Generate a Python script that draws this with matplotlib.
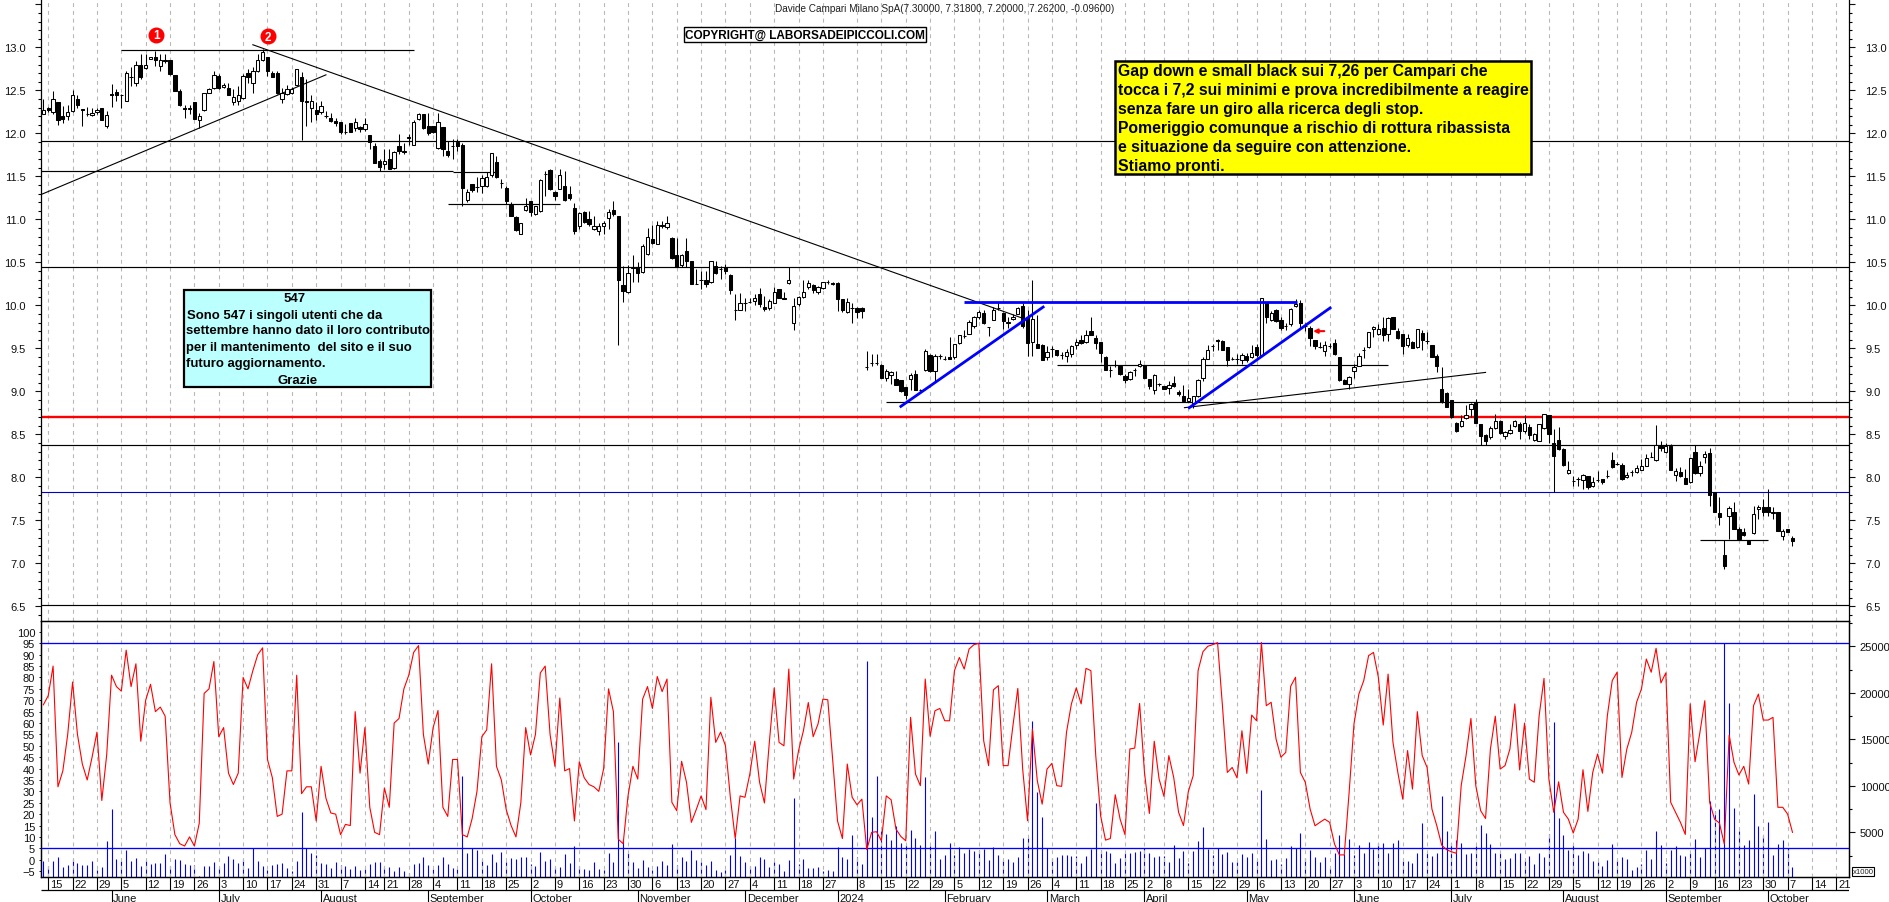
import numpy as np
import matplotlib
matplotlib.use("Agg")
import matplotlib.pyplot as plt
from matplotlib.patches import Rectangle
from matplotlib.ticker import MultipleLocator, FuncFormatter

plt.rcParams['font.family'] = ['Liberation Sans', 'DejaVu Sans']

W, H = 1890, 903
LEFT, RIGHT = 41.4, 1849.5
SPLIT, BOTTOM = 622.3, 878.3

# daily candles, ten per row
opens = [
    12.23,12.29,12.25,12.36,12.20,12.20,12.26,12.40,12.28,12.23,
    12.21,12.25,12.29,12.08,12.46,12.48,12.45,12.38,12.65,12.58,
    12.80,12.76,12.87,12.89,12.78,12.85,12.85,12.68,12.49,12.29,
    12.28,12.36,12.15,12.27,12.47,12.53,12.67,12.54,12.53,12.36,
    12.38,12.41,12.70,12.58,12.72,12.85,12.89,12.70,12.70,12.40,
    12.46,12.47,12.56,12.66,12.38,12.30,12.27,12.25,12.20,12.18,
    12.14,12.13,12.02,12.12,12.06,12.07,12.05,11.98,11.85,11.68,
    11.64,11.70,11.60,11.85,11.78,11.94,11.87,12.17,12.23,12.09,
    12.08,11.83,12.07,11.79,11.85,11.90,11.87,11.23,11.41,11.38,
    11.39,11.39,11.51,11.67,11.42,11.37,11.17,11.03,10.83,11.11,
    11.21,11.06,11.10,11.53,11.57,11.32,11.35,11.39,11.29,11.13,
    10.92,11.08,11.00,10.89,10.87,10.92,11.01,11.11,11.04,10.24,
    10.15,10.43,10.44,10.39,10.60,10.77,10.71,10.93,10.91,10.78,
    10.59,10.47,10.63,10.52,10.25,10.30,10.29,10.27,10.46,10.42,
    10.44,10.35,9.95,9.95,10.03,10.04,10.05,10.13,9.98,9.97,
    10.03,10.19,10.09,10.26,9.79,10.01,10.10,10.21,10.24,10.15,
    10.20,10.27,10.26,10.26,10.07,9.92,9.97,9.97,9.97,9.28,
    9.33,9.33,9.31,9.16,9.19,9.14,9.13,9.05,9.14,9.20,
    9.01,9.25,9.42,9.24,9.41,9.38,9.40,9.40,9.56,9.64,
    9.67,9.76,9.86,9.91,9.75,9.83,9.97,9.91,9.79,9.84,
    9.90,9.99,9.87,9.57,9.55,9.54,9.40,9.49,9.48,9.42,
    9.41,9.43,9.54,9.60,9.57,9.70,9.62,9.57,9.40,9.25,
    9.31,9.29,9.18,9.14,9.25,9.29,9.31,9.14,9.02,9.08,
    9.06,9.04,9.10,8.99,8.94,8.89,8.87,8.94,9.16,9.38,
    9.53,9.60,9.59,9.52,9.38,9.38,9.37,9.41,9.40,9.51,
    9.42,10.03,9.83,9.95,9.83,9.76,9.78,9.99,10.03,9.76,
    9.74,9.60,9.52,9.47,9.53,9.56,9.40,9.13,9.08,9.24,
    9.30,9.48,9.51,9.73,9.67,9.74,9.67,9.86,9.70,9.67,
    9.54,9.57,9.51,9.68,9.58,9.54,9.41,9.03,8.98,8.90,
    8.63,8.60,8.69,8.80,8.88,8.62,8.49,8.47,8.57,8.65,
    8.48,8.52,8.60,8.62,8.54,8.59,8.43,8.42,8.57,8.72,
    8.40,8.43,8.33,8.05,7.96,7.98,7.97,8.01,7.90,7.97,
    7.98,8.01,8.20,8.15,8.14,8.00,8.06,8.06,8.09,8.13,
    8.24,8.20,8.37,8.29,8.37,8.03,8.06,7.99,7.94,8.29,
    8.05,8.24,8.28,7.83,7.58,7.10,7.55,7.60,7.40,7.36,
    7.26,7.35,7.63,7.66,7.65,7.58,7.60,7.32,7.40,7.30]
closes = [
    12.27,12.27,12.40,12.15,12.17,12.25,12.44,12.33,12.27,12.22,
    12.24,12.27,12.16,12.21,12.45,12.45,12.44,12.70,12.66,12.80,
    12.65,12.80,12.89,12.85,12.85,12.84,12.69,12.49,12.33,12.28,
    12.30,12.17,12.20,12.47,12.51,12.68,12.53,12.56,12.45,12.42,
    12.44,12.67,12.65,12.73,12.85,12.94,12.72,12.66,12.47,12.47,
    12.52,12.52,12.75,12.38,12.37,12.38,12.23,12.32,12.20,12.14,
    12.12,12.02,12.01,12.02,12.13,12.05,12.11,11.90,11.66,11.61,
    11.68,11.59,11.78,11.79,11.79,11.96,12.13,12.23,12.06,12.00,
    12.01,12.13,11.82,11.75,11.85,11.85,11.36,11.32,11.34,11.38,
    11.48,11.49,11.77,11.49,11.42,11.21,11.04,10.88,10.96,11.16,
    11.09,11.15,11.46,11.53,11.35,11.27,11.52,11.23,11.25,10.87,
    11.07,10.97,10.94,10.92,10.92,10.96,11.09,11.06,10.30,10.17,
    10.38,10.44,10.38,10.69,10.79,10.72,10.93,10.92,10.96,10.55,
    10.44,10.59,10.52,10.25,10.25,10.30,10.25,10.51,10.38,10.42,
    10.40,10.18,9.95,10.03,10.03,10.04,10.09,10.02,9.96,10.05,
    10.16,10.09,10.07,10.30,9.99,10.10,10.15,10.26,10.18,10.21,
    10.27,10.27,10.25,10.07,9.95,10.04,9.97,9.92,9.93,9.28,
    9.33,9.33,9.16,9.24,9.23,9.07,9.00,8.96,9.19,9.02,
    9.01,9.47,9.24,9.41,9.41,9.38,9.38,9.55,9.65,9.64,
    9.81,9.87,9.92,9.79,9.75,9.94,9.97,9.82,9.81,9.87,
    9.97,9.76,9.56,9.84,9.50,9.37,9.46,9.49,9.42,9.42,
    9.46,9.53,9.57,9.56,9.65,9.65,9.56,9.45,9.25,9.25,
    9.31,9.20,9.13,9.23,9.25,9.32,9.16,9.06,9.19,9.08,
    9.03,9.07,9.06,8.97,8.89,8.92,8.94,9.13,9.38,9.48,
    9.53,9.59,9.48,9.37,9.38,9.38,9.42,9.36,9.44,9.42,
    10.08,9.87,9.91,9.82,9.74,9.76,9.96,10.02,9.79,9.76,
    9.62,9.53,9.52,9.54,9.53,9.43,9.13,9.09,9.17,9.28,
    9.41,9.48,9.69,9.75,9.72,9.66,9.85,9.72,9.62,9.53,
    9.62,9.50,9.72,9.60,9.58,9.40,9.29,8.88,8.82,8.70,
    8.54,8.65,8.73,8.85,8.63,8.48,8.42,8.57,8.66,8.51,
    8.53,8.55,8.65,8.54,8.63,8.49,8.50,8.62,8.74,8.50,
    8.25,8.33,8.14,8.09,7.96,7.98,8.03,7.89,7.95,7.97,
    7.95,8.01,8.12,8.15,7.98,8.03,8.06,8.11,8.13,8.23,
    8.24,8.38,8.34,8.36,8.08,8.07,8.01,7.92,8.22,8.05,
    8.13,8.27,7.80,7.60,7.54,6.97,7.64,7.40,7.28,7.33,
    7.23,7.57,7.66,7.60,7.60,7.60,7.38,7.38,7.36,7.262]
highs = [
    12.40,12.31,12.49,12.36,12.32,12.33,12.50,12.44,12.28,12.31,
    12.29,12.30,12.30,12.26,12.57,12.52,12.46,12.73,12.77,12.84,
    12.92,12.92,12.89,12.96,12.92,12.92,12.85,12.68,12.51,12.33,
    12.33,12.36,12.24,12.47,12.53,12.73,12.69,12.58,12.58,12.52,
    12.55,12.69,12.75,12.77,12.92,12.98,12.89,12.73,12.73,12.53,
    12.56,12.54,12.75,12.71,12.63,12.44,12.36,12.38,12.26,12.24,
    12.18,12.13,12.11,12.12,12.18,12.09,12.18,11.98,11.89,11.70,
    11.82,11.82,11.80,11.99,11.89,11.99,12.15,12.24,12.23,12.24,
    12.09,12.24,12.07,11.91,11.93,11.93,11.89,11.35,11.41,11.49,
    11.51,11.55,11.77,11.74,11.47,11.39,11.20,11.04,10.96,11.25,
    11.21,11.16,11.47,11.56,11.58,11.33,11.58,11.56,11.39,11.19,
    11.08,11.10,11.10,11.04,10.96,10.98,11.12,11.21,11.04,10.46,
    10.47,10.58,10.50,10.71,10.90,10.93,10.98,10.98,11.04,10.79,
    10.78,10.60,10.78,10.52,10.42,10.40,10.40,10.52,10.52,10.46,
    10.48,10.36,10.13,10.14,10.09,10.08,10.13,10.20,10.11,10.07,
    10.21,10.19,10.15,10.44,10.09,10.11,10.29,10.29,10.25,10.23,
    10.27,10.29,10.27,10.27,10.07,10.08,10.03,9.98,9.98,9.47,
    9.43,9.43,9.32,9.26,9.24,9.24,9.13,9.05,9.21,9.25,
    9.03,9.49,9.43,9.43,9.43,9.41,9.63,9.55,9.65,9.71,
    9.83,9.88,9.95,9.94,9.75,9.98,10.04,9.92,9.87,9.90,
    9.98,10.03,9.94,10.29,9.89,9.55,9.53,9.53,9.48,9.46,
    9.49,9.54,9.61,9.65,9.71,9.87,9.65,9.57,9.41,9.30,
    9.36,9.31,9.20,9.24,9.27,9.36,9.31,9.14,9.20,9.10,
    9.06,9.12,9.18,9.01,9.07,9.03,8.94,9.14,9.40,9.54,
    9.55,9.61,9.60,9.52,9.40,9.43,9.45,9.45,9.54,9.55,
    10.08,10.03,9.93,9.96,9.86,9.80,9.97,10.07,10.06,9.80,
    9.76,9.60,9.57,9.59,9.56,9.61,9.40,9.14,9.18,9.32,
    9.45,9.51,9.69,9.76,9.78,9.86,9.86,9.86,9.74,9.67,
    9.67,9.59,9.72,9.71,9.69,9.54,9.43,9.28,8.99,8.90,
    8.64,8.72,8.84,8.87,8.91,8.62,8.50,8.60,8.74,8.67,
    8.54,8.62,8.67,8.64,8.72,8.62,8.52,8.62,8.74,8.72,
    8.56,8.59,8.34,8.19,8.02,8.00,8.04,8.02,8.00,8.07,
    7.98,8.09,8.29,8.18,8.17,8.06,8.08,8.14,8.21,8.27,
    8.29,8.61,8.42,8.40,8.39,8.11,8.12,8.10,8.22,8.38,
    8.19,8.31,8.34,7.83,7.77,7.27,7.67,7.71,7.42,7.41,
    7.26,7.67,7.68,7.75,7.87,7.65,7.60,7.40,7.40,7.318]
lows = [
    12.22,12.25,12.23,12.10,12.12,12.15,12.25,12.30,12.08,12.20,
    12.20,12.22,12.15,12.06,12.31,12.38,12.30,12.38,12.55,12.55,
    12.63,12.75,12.87,12.78,12.73,12.82,12.68,12.49,12.32,12.18,
    12.22,12.17,12.06,12.26,12.47,12.52,12.52,12.53,12.44,12.33,
    12.33,12.40,12.59,12.47,12.71,12.84,12.67,12.65,12.46,12.35,
    12.44,12.46,12.55,11.92,12.09,12.13,12.16,12.22,12.18,12.13,
    12.09,11.99,11.99,12.01,12.03,12.02,12.03,11.82,11.66,11.56,
    11.59,11.58,11.59,11.76,11.76,11.87,11.87,12.16,12.05,11.98,
    12.00,11.82,11.74,11.73,11.70,11.80,11.15,11.20,11.32,11.32,
    11.31,11.38,11.49,11.48,11.37,11.18,11.04,10.87,10.83,11.10,
    11.04,11.05,11.09,11.27,11.34,11.22,11.35,11.21,11.23,10.83,
    10.89,10.96,10.92,10.88,10.82,10.83,10.89,11.04,9.54,10.04,
    10.14,10.27,10.27,10.38,10.58,10.71,10.71,10.90,10.89,10.54,
    10.44,10.44,10.44,10.25,10.25,10.19,10.21,10.26,10.36,10.31,
    10.36,10.13,9.83,9.94,9.93,10.03,10.00,9.98,9.93,9.95,
    10.03,10.09,10.07,10.25,9.71,9.99,10.09,10.19,10.14,10.13,
    10.19,10.25,10.24,9.93,9.92,9.91,9.79,9.85,9.85,9.25,
    9.29,9.31,9.15,9.12,9.09,9.07,8.99,8.91,9.01,9.01,
    9.00,9.24,9.23,9.12,9.38,9.37,9.38,9.38,9.55,9.62,
    9.67,9.74,9.84,9.78,9.64,9.83,9.94,9.73,9.74,9.83,
    9.90,9.74,9.41,9.41,9.50,9.36,9.36,9.40,9.41,9.38,
    9.34,9.40,9.49,9.55,9.56,9.65,9.49,9.34,9.25,9.17,
    9.28,9.19,9.10,9.13,9.18,9.28,9.15,9.03,8.97,9.06,
    9.03,8.97,9.05,8.95,8.88,8.88,8.81,8.93,9.12,9.38,
    9.47,9.48,9.48,9.29,9.37,9.32,9.32,9.34,9.39,9.40,
    9.41,9.80,9.82,9.81,9.71,9.71,9.76,9.98,9.74,9.70,
    9.53,9.49,9.50,9.41,9.50,9.42,9.12,9.08,9.03,9.15,
    9.29,9.39,9.50,9.63,9.65,9.59,9.58,9.72,9.61,9.43,
    9.52,9.50,9.50,9.48,9.55,9.40,9.23,8.87,8.82,8.69,
    8.53,8.59,8.68,8.70,8.63,8.38,8.38,8.45,8.56,8.50,
    8.45,8.50,8.58,8.45,8.52,8.45,8.42,8.42,8.56,8.40,
    7.83,8.32,8.13,8.04,7.90,7.90,7.86,7.87,7.89,7.94,
    7.92,7.99,8.11,8.14,7.97,7.99,8.02,8.05,8.09,8.13,
    8.24,8.19,8.31,8.28,8.08,7.96,8.00,7.92,7.93,8.04,
    8.02,8.17,7.67,7.60,7.44,6.93,7.28,7.40,7.28,7.32,
    7.22,7.34,7.52,7.55,7.55,7.52,7.38,7.27,7.36,7.20]

# oscillator on the left scale of the lower panel
osc = [
    68,72,85,32,39,55,78,55,42,35,
    45,56,26,46,81,76,74,92,76,86,
    52,70,77,65,67,63,25,11,7,6,
    10,6,16,73,75,87,54,58,38,33,
    38,80,75,83,90,93,44,36,19,20,
    39,39,81,29,32,32,17,41,27,20.5,
    20,11,15.5,15,65,38,58,23,12,11,
    31.5,23,60,62,75,81,91,94,55,42,
    58,65.5,23,19,44,44,11,10,18,30,
    54,57,86,41,35,22,15,10,25,58,
    46,55,82,85,55,41,71,39,40,17,
    43,36,33,32,30,40,75,65,9,7,
    28,41,35.4,70.5,76,66.4,80.4,73.8,79.3,25.2,
    21.5,43.2,34,16.4,22,28,22,71.3,51.5,56,
    50,27.4,9.3,28,27.4,37.6,52,34,24.9,51.5,
    75.4,51.5,50,83.7,35.4,47.9,56.6,69,54,59.6,
    70.5,70.2,44,17,9.3,42,27.4,24.1,26.6,4.4,
    12,12.3,8.3,28,26.3,13.4,10.2,8.3,62.5,37.6,
    32.5,79.3,54.2,65.4,66.4,61,61,83,88.8,83.7,
    92.5,94.4,95,52.2,41.3,74.6,76.4,41.3,41.3,58.8,
    75.2,39.8,17.1,57.4,34.7,24.4,39.8,42.3,32.5,32.2,
    56,68.4,75.4,68.4,84,83,45.7,19.3,8.6,9.3,
    28.5,17.8,11,48.6,49,68.6,38.3,20.3,52,35.4,
    27.8,45.7,36.1,20.8,15,29.9,36.9,83,91.3,93.7,
    94.4,95.3,67.6,38.3,40.5,35.9,56.6,37.9,63.5,61,
    95.4,67.6,69.1,53,45,47.1,76.1,80.1,38.3,34,
    22.2,14.9,16.4,17.8,16.4,6.9,2.1,2.1,29.5,59.6,
    72.7,78.6,89.6,91,80.1,59.1,81.5,51.5,38.3,26.6,
    47.9,31,65,45.7,40.5,22.2,14.9,6.4,4.4,3.5,
    2.8,32.5,45.7,62,32.5,21.5,18.1,48.6,63,39.8,
    41.3,48.6,68.4,39.4,60,35.4,34,63.2,79.6,35.4,
    20.8,34.2,20.8,17.8,11.7,17.8,39.5,21.2,38.3,46.4,
    38,63.2,78.6,82.3,36.1,48.6,55.9,69.1,75,88.1,
    82.3,92.8,77.6,82,25.2,20.8,16.4,11.1,68.4,43,
    55.9,69.8,25.2,17.8,16.1,6.9,54.7,42.7,37.2,41,
    33.2,67.6,72.7,61.3,61.3,62.5,23,23,20,12]

volumes = [
    1950,1420,1950,2310,1240,1490,2130,1700,1490,1490,
    1920,950,1270,4100,7510,2130,1920,3140,1920,2210,
    1420,2030,1630,1700,1700,2640,1420,2130,2060,1600,
    1490,1490,300,1420,1380,1850,1270,1700,2450,2130,
    1700,2130,1170,3280,1950,1420,990,1490,1600,1700,
    1170,810,1920,7220,3280,2780,2560,1700,1600,1170,
    1810,1490,1380,1060,1380,990,1090,1630,1810,1810,
    1270,1270,880,1270,880,630,1600,1700,2350,1490,
    1060,1450,2350,1600,1170,1060,11100,2780,3280,3140,
    2130,1490,2670,1850,2890,1770,2240,2130,2350,2350,
    1600,1340,2850,1920,2130,1270,1270,2670,1700,3490,
    1420,1060,910,1810,1060,910,2780,1770,14750,4280,
    2780,1850,1130,2030,1270,950,1380,1880,1490,3750,
    1490,2310,1920,3140,2030,1850,1490,1920,950,740,
    950,2560,4350,2450,1810,1380,1380,2350,2130,1270,
    1850,1600,840,2030,8690,1600,2130,1170,1170,1270,
    840,950,840,3420,2350,2130,4710,2350,1600,23420,
    6650,11060,5140,4820,4170,5640,3850,3640,5250,4390,
    3640,10950,3530,5140,2130,2560,3850,2560,3420,2780,
    3210,3000,3100,3210,2030,3420,2560,2030,2130,1810,
    2350,4390,4390,16970,9340,6650,3280,2240,2350,2560,
    2560,2450,2450,1700,2450,3210,8150,3100,3000,2740,
    1700,2240,2780,2780,2890,3000,3310,2780,2350,2450,
    2450,1810,3640,2240,3000,1700,3000,4070,5570,3210,
    2560,3280,2670,2890,1810,1810,2670,2350,2780,1990,
    9550,4280,2030,2130,1600,2240,3490,3280,4930,2240,
    3100,2350,1810,2350,1170,2740,4710,2670,4280,2560,
    3640,2780,3960,3210,3850,3850,2780,3850,4170,1920,
    1920,1700,2780,6000,2780,2450,2780,8910,5140,3850,
    4170,3850,2670,2780,3530,5790,4930,3750,2780,2780,
    2130,2240,2780,2780,2030,2450,1600,2780,2350,4820,
    16860,6540,4710,3100,3640,2560,3000,2780,1920,1810,
    1380,2030,3750,2030,2350,2130,950,1270,1600,3100,
    2130,5140,3640,1700,3100,3530,2560,2450,2780,4280,
    2350,3310,8370,7300,7510,25320,18900,7620,5140,3640,
    4170,9120,5680,4710,6110,2560,3750,4170,3310,1270]

week_pos = [1,6,11,16,21,26,31,36,41,46,51,56,61,66,70,75,80,85,90,95,100,105,110,115,
            120,125,130,135,140,145,150,155,160,167,172,177,182,187,192,197,202,207,212,
            217,222,226,230,235,240,245,249,254,259,264,269,274,279,284,289,294,299,304,
            309,314,319,323,328,333,338,343,348,353,358,363,368]
week_labels = [15,22,29,5,12,19,26,3,10,17,24,31,7,14,21,28,4,11,18,25,2,9,16,23,
               30,6,13,20,27,4,11,18,27,8,15,22,29,5,12,19,26,4,11,
               18,25,2,8,15,22,29,6,13,20,27,3,10,17,24,1,8,15,22,
               29,5,12,19,26,2,9,16,23,30,7,14,21]
month_pos = [14,36,57,79,100,122,144,163,185,206,226,247,269,289,312,333,354]
month_labels = ['June','July','August','September','October','November','December','2024',
                'February','March','April','May','June','July','August','September','October']

# horizontal levels: price, first day, last day (None = whole width)
black_levels = [(11.907,None,None),(10.44,None,None),(8.376,None,None),(6.51,None,None),
                (8.872,173,None),(11.558,None,84),(12.965,16,76),(11.546,84,93),
                (11.174,83,106),(9.31,208,276),(7.268,340,354)]
red_level = 8.70
blue_level = 7.826
channel_top = (10.04,189,257.3)
# trendlines as day, price, day, price
black_trends = [(-0.4,11.29,58,12.68),(43,13.03,201,9.85),(234.2,8.81,296,9.22)]
blue_trends = [(176,8.825,205.2,9.98),(235.2,8.81,264.1,9.97)]


def px_rect(x0, y0, x1, y1):
    return [x0/W, 1-y1/H, (x1-x0)/W, (y1-y0)/H]


def fx(x):
    return x/W


def fy(y):
    return 1-y/H


n = len(opens)
days = np.arange(n)
xmin, xmax = -0.4, 370.7

fig = plt.figure(figsize=(W/100, H/100), dpi=100, facecolor='white')
ax = fig.add_axes(px_rect(LEFT, 0, RIGHT, SPLIT))
ax2 = fig.add_axes(px_rect(LEFT, SPLIT, RIGHT, BOTTOM))
vol = ax2.twinx()
ax3 = fig.add_axes(px_rect(LEFT, BOTTOM, RIGHT, H))

grid_style = dict(color='#b8b8b8', ls=(0, (3.5, 3.5)), lw=0.8, zorder=0)
for a in (ax, ax2):
    a.set_xlim(xmin, xmax)
    a.vlines(week_pos, 0, 1, transform=a.get_xaxis_transform(), **grid_style)
    a.set_xticks([])

# price panel
ax.set_ylim(6.326, 13.562)
for lev, a0, a1 in black_levels:
    ax.hlines(lev, xmin if a0 is None else a0, xmax if a1 is None else a1,
              color='black', lw=0.85, zorder=1)
for x0, y0, x1, y1 in black_trends:
    ax.plot([x0, x1], [y0, y1], color='black', lw=0.8, zorder=1)
ax.hlines(red_level, xmin, xmax, color='#ff0000', lw=1.7, zorder=1)
ax.hlines(blue_level, xmin, xmax, color='#0000c8', lw=0.8, zorder=1)

o = np.array(opens)
c = np.array(closes)
ax.vlines(days, lows, highs, color='black', lw=0.75, zorder=2)
down = c < o
ax.bar(days, np.abs(c-o), bottom=np.minimum(o, c), width=0.68,
       color=np.where(down, 'black', 'white'), edgecolor='black', lw=0.75, zorder=3)

ax.hlines(channel_top[0], channel_top[1], channel_top[2], color='#0000ff', lw=2.0, zorder=4)
for x0, y0, x1, y1 in blue_trends:
    ax.plot([x0, x1], [y0, y1], color='#0000ff', lw=2.0, zorder=4)

ax.annotate('', xy=(260.6, 9.70), xytext=(262.9, 9.70),
            arrowprops=dict(arrowstyle='-|>', color='#ff0000', lw=1.5, mutation_scale=6,
                            shrinkA=0, shrinkB=0), zorder=5)

for xp, yp, num in [(23.2, 13.147, '1'), (46.1, 13.13, '2')]:
    ax.plot([xp], [yp], 'o', color='#ff0000', ms=10.5, mec='#ff0000', zorder=5)
    ax.text(xp, yp-0.005, num, color='white', fontsize=8.5, fontweight='bold',
            ha='center', va='center', zorder=6)

ax.yaxis.set_major_locator(MultipleLocator(0.5))
ax.yaxis.set_minor_locator(MultipleLocator(0.1))
# the 13.5 tick at the top has no label
ax.yaxis.set_major_formatter(FuncFormatter(lambda v, p: '' if v > 13.2 else '%.1f' % v))
ax.tick_params(axis='y', which='major', length=4.3, width=0.8, left=True, right=True,
               labelleft=True, labelright=True, labelsize=8, pad=7, colors='#101010')
ax.tick_params(axis='y', which='minor', length=2.2, width=0.8, left=True, right=True)
for s in ('top', 'bottom'):
    ax.spines[s].set_visible(False)
for s in ('left', 'right'):
    ax.spines[s].set_linewidth(0.9)

# lower panel
ax2.set_ylim(-7.73, 104.66)
vol.set_ylim(161, 27688)
vol.vlines(days, 0, volumes, color='#0000ff', lw=0.8, zorder=1)
ax2.set_zorder(vol.get_zorder()+1)
ax2.patch.set_visible(False)
ax2.hlines([95, 5], xmin, xmax, color='#0000ff', lw=0.95, zorder=3)
ax2.plot(days, osc, color='#ff0000', lw=0.8, zorder=4)

ax2.set_yticks(np.arange(-5, 101, 5))
ax2.tick_params(axis='y', length=1.5, width=0.7, labelsize=8, pad=3, colors='#101010')
vol.set_yticks(np.arange(5000, 25001, 5000))
vol.yaxis.set_minor_locator(MultipleLocator(2500))
vol.tick_params(axis='y', which='major', length=4.3, width=0.8, labelsize=8, pad=3, colors='#101010')
vol.tick_params(axis='y', which='minor', length=2.2, width=0.8)
for a in (ax2, vol):
    for s in a.spines.values():
        s.set_linewidth(0.9)

# dates strip under the panels
ax3.set_xlim(xmin, xmax)
ax3.set_ylim(24.7, 0)
ax3.axis('off')
ax3.hlines(12.7, xmin, xmax, color='black', lw=0.9)
ax3.vlines(week_pos, 0, 12.7, color='black', lw=0.8)
ax3.vlines(month_pos, 12.7, 24.7, color='black', lw=0.8)
for xp, lab in zip(week_pos, week_labels):
    ax3.text(xp+0.35, 7.0, str(lab), fontsize=8, ha='left', va='center', color='#101010')
for xp, lab in zip(month_pos, month_labels):
    ax3.text(xp+0.35, 20.5, lab, fontsize=8, ha='left', va='center', color='#101010')

# title and boxes, placed on the figure
fig.text(fx(945), fy(8.7), 'Davide Campari Milano SpA(7.30000, 7.31800, 7.20000, 7.26200, -0.09600)',
         fontsize=7.2, ha='center', va='center', color='#202020')

fig.add_artist(Rectangle((fx(684), fy(42.7)), (926-684)/W, (42.7-28.3)/H, transform=fig.transFigure,
                         facecolor='white', edgecolor='black', lw=1.0))
fig.text(fx(805), fy(35.5), 'COPYRIGHT@ LABORSADEIPICCOLI.COM', fontsize=8.5, fontweight='bold',
         ha='center', va='center')

fig.add_artist(Rectangle((fx(1115), fy(175)), (1531-1115)/W, (175-62.3)/H, transform=fig.transFigure,
                         facecolor='#ffff00', edgecolor='black', lw=1.8))
yellow_lines = ['Gap down e small black sui 7,26 per Campari che',
                'tocca i 7,2 sui minimi e prova incredibilmente a reagire',
                'senza fare un giro alla ricerca degli stop.',
                'Pomeriggio comunque a rischio di rottura ribassista',
                'e situazione da seguire con attenzione.',
                'Stiamo pronti.']
for k, line in enumerate(yellow_lines):
    fig.text(fx(1118), fy(71.5+19*k), line, fontsize=11.3, fontweight='bold', ha='left', va='center')

fig.add_artist(Rectangle((fx(183.6), fy(388.3)), (431-183.6)/W, (388.3-290.7)/H, transform=fig.transFigure,
                         facecolor='#bbffff', edgecolor='black', lw=1.6))
cyan_lines = [(295, 298.5, 'center', '547'),
              (187, 315.5, 'left', 'Sono 547 i singoli utenti che da'),
              (186, 331.5, 'left', 'settembre hanno dato il loro contributo'),
              (186, 347.5, 'left', 'per il mantenimento  del sito e il suo'),
              (186, 364.5, 'left', 'futuro aggiornamento.'),
              (298, 380.5, 'center', 'Grazie')]
for xp, yp, align, line in cyan_lines:
    fig.text(fx(xp), fy(yp), line, fontsize=9.45, fontweight='bold', ha=align, va='center')

fig.add_artist(Rectangle((fx(1852), fy(877)), 22/W, 9/H, transform=fig.transFigure,
                         facecolor='white', edgecolor='black', lw=0.8))
fig.text(fx(1863), fy(872.5), 'x1000', fontsize=5.6, ha='center', va='center', color='#202020')

fig.savefig('out.png', dpi=100)
